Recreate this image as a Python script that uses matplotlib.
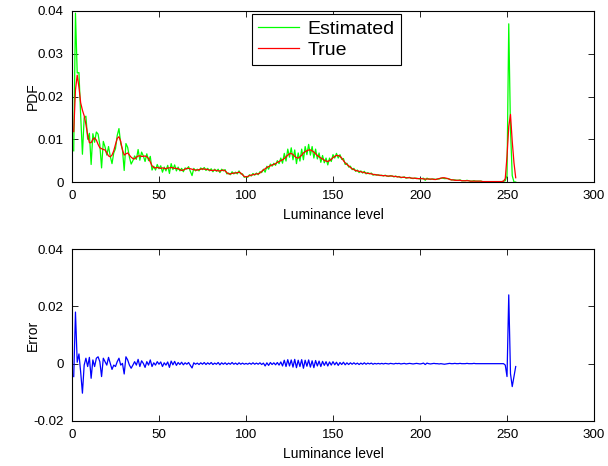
import numpy as np
from matplotlib import pyplot as plt

plt.rcParams['font.family'] = ['Liberation Sans', 'DejaVu Sans']
plt.rcParams['axes.unicode_minus'] = False

# luminance levels 1..255
levels = np.arange(1, 256)

true_pdf = [
    0.0118, 0.0215, 0.0250, 0.0222, 0.0185, 0.0168, 0.0155, 0.0135, 0.0110, 0.0092,
    0.0092, 0.0100, 0.0103, 0.0098, 0.0088, 0.0080, 0.0078, 0.0076, 0.0075, 0.0068,
    0.0061, 0.0059, 0.0063, 0.0073, 0.0088, 0.0102, 0.0106, 0.0095, 0.0075, 0.0063,
    0.0066, 0.0068, 0.0063, 0.0058, 0.0055, 0.0054, 0.0058, 0.0061, 0.0061, 0.0060,
    0.0060, 0.0061, 0.0059, 0.0055, 0.0047, 0.0038, 0.0034, 0.0033, 0.0034, 0.0033,
    0.0032, 0.0033, 0.0032, 0.0031, 0.0033, 0.0033, 0.0034, 0.0033, 0.0032, 0.0032,
    0.0031, 0.0029, 0.0027, 0.0028, 0.0030, 0.0032, 0.0032, 0.0031, 0.0030, 0.0029,
    0.0028, 0.0028, 0.0029, 0.0030, 0.0031, 0.0030, 0.0030, 0.0029, 0.0028, 0.0027,
    0.0027, 0.0028, 0.0027, 0.0026, 0.0026, 0.0027, 0.0028, 0.0026, 0.0022, 0.0019,
    0.0019, 0.0020, 0.0021, 0.0021, 0.0022, 0.0023, 0.0021, 0.0017, 0.0013, 0.0012,
    0.0013, 0.0015, 0.0016, 0.0017, 0.0018, 0.0019, 0.0019, 0.0021, 0.0025, 0.0028,
    0.0031, 0.0034, 0.0036, 0.0038, 0.0040, 0.0041, 0.0043, 0.0046, 0.0048, 0.0050,
    0.0052, 0.0055, 0.0059, 0.0063, 0.0066, 0.0067, 0.0064, 0.0060, 0.0057, 0.0056,
    0.0059, 0.0063, 0.0068, 0.0071, 0.0073, 0.0075, 0.0075, 0.0073, 0.0070, 0.0066,
    0.0062, 0.0059, 0.0056, 0.0054, 0.0051, 0.0049, 0.0048, 0.0050, 0.0053, 0.0057,
    0.0060, 0.0062, 0.0062, 0.0060, 0.0056, 0.0050, 0.0045, 0.0041, 0.0038, 0.0034,
    0.0031, 0.0029, 0.0027, 0.0026, 0.0025, 0.0024, 0.0023, 0.0022, 0.0021, 0.0020,
    0.0020, 0.0019, 0.0018, 0.0017, 0.0017, 0.0016, 0.0016, 0.0015, 0.0015, 0.0015,
    0.0014, 0.0014, 0.0014, 0.0014, 0.0013, 0.0013, 0.0012, 0.0012, 0.0011, 0.0011,
    0.0011, 0.0010, 0.0010, 0.0010, 0.0009, 0.0009, 0.0009, 0.0008, 0.0008, 0.0008,
    0.0008, 0.0007, 0.0007, 0.0007, 0.0007, 0.0007, 0.0007, 0.0006, 0.0006, 0.0007,
    0.0008, 0.0009, 0.0010, 0.0010, 0.0009, 0.0008, 0.0006, 0.0005, 0.0005, 0.0004,
    0.0004, 0.0004, 0.0004, 0.0003, 0.0003, 0.0003, 0.0003, 0.0003, 0.0002, 0.0002,
    0.0002, 0.0002, 0.0002, 0.0002, 0.0002, 0.0001, 0.0001, 0.0001, 0.0001, 0.0001,
    0.0001, 0.0001, 0.0001, 0.0001, 0.0001, 0.0001, 0.0001, 0.0002, 0.0008, 0.0060,
    0.0130, 0.0158, 0.0095, 0.0045, 0.0010,
]

estimated_pdf = [
    0.0073, 0.0395, 0.0255, 0.0256, 0.0155, 0.0065, 0.0150, 0.0154, 0.0100, 0.0114,
    0.0041, 0.0113, 0.0093, 0.0117, 0.0112, 0.0087, 0.0033, 0.0095, 0.0082, 0.0063,
    0.0083, 0.0060, 0.0043, 0.0068, 0.0078, 0.0109, 0.0125, 0.0090, 0.0076, 0.0027,
    0.0090, 0.0081, 0.0058, 0.0042, 0.0050, 0.0061, 0.0053, 0.0076, 0.0051, 0.0070,
    0.0061, 0.0048, 0.0066, 0.0050, 0.0060, 0.0028, 0.0037, 0.0028, 0.0041, 0.0031,
    0.0038, 0.0023, 0.0035, 0.0026, 0.0039, 0.0020, 0.0043, 0.0029, 0.0040, 0.0026,
    0.0035, 0.0026, 0.0032, 0.0024, 0.0033, 0.0030, 0.0036, 0.0025, 0.0015, 0.0032,
    0.0026, 0.0030, 0.0026, 0.0033, 0.0029, 0.0034, 0.0027, 0.0032, 0.0026, 0.0031,
    0.0024, 0.0030, 0.0025, 0.0030, 0.0022, 0.0030, 0.0026, 0.0029, 0.0019, 0.0021,
    0.0017, 0.0024, 0.0019, 0.0023, 0.0019, 0.0026, 0.0019, 0.0019, 0.0011, 0.0013,
    0.0011, 0.0017, 0.0014, 0.0020, 0.0016, 0.0021, 0.0017, 0.0024, 0.0022, 0.0030,
    0.0023, 0.0037, 0.0030, 0.0042, 0.0037, 0.0044, 0.0039, 0.0050, 0.0043, 0.0056,
    0.0044, 0.0067, 0.0049, 0.0077, 0.0058, 0.0080, 0.0052, 0.0075, 0.0043, 0.0068,
    0.0049, 0.0077, 0.0052, 0.0083, 0.0064, 0.0088, 0.0063, 0.0083, 0.0056, 0.0077,
    0.0054, 0.0068, 0.0046, 0.0062, 0.0045, 0.0056, 0.0040, 0.0056, 0.0048, 0.0064,
    0.0056, 0.0067, 0.0056, 0.0064, 0.0053, 0.0055, 0.0041, 0.0044, 0.0035, 0.0037,
    0.0029, 0.0032, 0.0025, 0.0028, 0.0022, 0.0026, 0.0021, 0.0025, 0.0019, 0.0022,
    0.0019, 0.0021, 0.0016, 0.0018, 0.0016, 0.0017, 0.0015, 0.0016, 0.0014, 0.0016,
    0.0014, 0.0013, 0.0015, 0.0014, 0.0012, 0.0014, 0.0012, 0.0013, 0.0010, 0.0011,
    0.0012, 0.0009, 0.0010, 0.0011, 0.0009, 0.0008, 0.0009, 0.0009, 0.0008, 0.0007,
    0.0008, 0.0009, 0.0004, 0.0009, 0.0007, 0.0006, 0.0007, 0.0007, 0.0006, 0.0007,
    0.0007, 0.0009, 0.0009, 0.0008, 0.0008, 0.0008, 0.0007, 0.0005, 0.0005, 0.0005,
    0.0004, 0.0004, 0.0005, 0.0003, 0.0003, 0.0003, 0.0004, 0.0003, 0.0002, 0.0002,
    0.0003, 0.0002, 0.0002, 0.0002, 0.0002, 0.0001, 0.0001, 0.0001, 0.0001, 0.0001,
    0.0001, 0.0001, 0.0001, 0.0001, 0.0001, 0.0001, 0.0001, 0.0002, 0.0003, 0.0015,
    0.0370, 0.0123, 0.0015, 0.0000, 0.0000,
]

error = [
    -0.0045, 0.0180, 0.0005, 0.0034, -0.0030, -0.0103, -0.0005, 0.0019, -0.0010, 0.0022,
    -0.0051, 0.0013, -0.0010, 0.0019, 0.0024, 0.0007, -0.0045, 0.0019, 0.0007, -0.0005,
    0.0022, 0.0001, -0.0020, -0.0005, -0.0010, 0.0007, 0.0019, -0.0005, 0.0001, -0.0036,
    0.0024, 0.0013, -0.0005, -0.0016, -0.0005, 0.0007, -0.0005, 0.0015, -0.0010, 0.0010,
    0.0001, -0.0013, 0.0007, -0.0005, 0.0013, -0.0010, 0.0003, -0.0005, 0.0007, -0.0002,
    0.0006, -0.0010, 0.0003, -0.0005, 0.0006, -0.0013, 0.0009, -0.0004, 0.0008, -0.0006,
    0.0004, -0.0003, 0.0005, -0.0004, 0.0003, -0.0002, 0.0004, -0.0006, -0.0015, 0.0003,
    -0.0002, 0.0002, -0.0003, 0.0003, -0.0002, 0.0004, -0.0003, 0.0003, -0.0002, 0.0004,
    -0.0003, 0.0002, -0.0002, 0.0004, -0.0004, 0.0003, -0.0002, 0.0003, -0.0003, 0.0002,
    -0.0002, 0.0004, -0.0002, 0.0002, -0.0003, 0.0003, -0.0002, 0.0002, -0.0002, 0.0001,
    -0.0002, 0.0002, -0.0002, 0.0003, -0.0002, 0.0002, -0.0002, 0.0003, -0.0003, 0.0002,
    -0.0008, 0.0003, -0.0006, 0.0004, -0.0003, 0.0003, -0.0004, 0.0004, -0.0005, 0.0006,
    -0.0008, 0.0012, -0.0010, 0.0014, -0.0008, 0.0013, -0.0012, 0.0015, -0.0014, 0.0012,
    -0.0010, 0.0014, -0.0016, 0.0012, -0.0009, 0.0013, -0.0012, 0.0010, -0.0014, 0.0011,
    -0.0008, 0.0009, -0.0010, 0.0008, -0.0006, 0.0007, -0.0008, 0.0006, -0.0005, 0.0007,
    -0.0004, 0.0005, -0.0006, 0.0004, -0.0003, 0.0005, -0.0004, 0.0003, -0.0003, 0.0003,
    -0.0002, 0.0003, -0.0002, 0.0002, -0.0003, 0.0002, -0.0002, 0.0003, -0.0002, 0.0002,
    -0.0001, 0.0002, -0.0002, 0.0001, -0.0001, 0.0001, -0.0001, 0.0001, -0.0001, 0.0001,
    0.0000, -0.0001, 0.0001, 0.0000, -0.0001, 0.0001, 0.0000, 0.0001, -0.0001, 0.0000,
    0.0001, -0.0001, 0.0000, 0.0001, 0.0000, -0.0001, 0.0000, 0.0001, 0.0000, -0.0001,
    0.0000, 0.0002, -0.0003, 0.0002, 0.0000, -0.0001, 0.0000, 0.0001, 0.0000, 0.0000,
    -0.0001, 0.0000, -0.0001, -0.0002, -0.0001, 0.0000, 0.0001, 0.0000, 0.0000, 0.0001,
    0.0000, 0.0000, 0.0001, 0.0000, 0.0000, 0.0000, 0.0001, 0.0000, 0.0000, 0.0000,
    0.0001, 0.0000, 0.0000, 0.0000, 0.0000, 0.0000, 0.0000, 0.0000, 0.0000, 0.0000,
    0.0000, 0.0000, 0.0000, 0.0000, 0.0000, 0.0000, 0.0000, 0.0000, -0.0005, -0.0045,
    0.0240, -0.0035, -0.0080, -0.0045, -0.0010,
]

x_ticks = [0, 50, 100, 150, 200, 250, 300]
pdf_ticks = [0, 0.01, 0.02, 0.03, 0.04]
pdf_labels = ['0', '0.01', '0.02', '0.03', '0.04']
err_ticks = [-0.02, 0, 0.02, 0.04]
err_labels = ['-0.02', '0', '0.02', '0.04']


def matlab_axes(ax, ylabel):
    ax.set_xlim(0, 300)
    ax.set_xticks(x_ticks)
    ax.set_xlabel('Luminance level', fontsize=10, labelpad=4)
    ax.set_ylabel(ylabel, fontsize=10)
    ax.yaxis.set_label_coords(-0.062, 0.5)
    ax.tick_params(direction='in', top=True, right=True, length=4, width=0.6,
                   labelsize=9.6, pad=6)
    for sp in ax.spines.values():
        sp.set_linewidth(0.8)


fig = plt.figure(figsize=(6.08, 4.66), dpi=100)

ax1 = fig.add_axes([0.1184, 0.6094, 0.8586, 0.367])
ax1.plot(levels, estimated_pdf, color=(0, 1, 0), lw=0.9, label='Estimated')
ax1.plot(levels, true_pdf, color=(1, 0, 0), lw=0.9, label='True')
ax1.set_ylim(0, 0.04)
ax1.set_yticks(pdf_ticks)
ax1.set_yticklabels(pdf_labels)
matlab_axes(ax1, 'PDF')
leg = ax1.legend(loc='upper center', bbox_to_anchor=(0.4876, 0.982), fontsize=14,
                 fancybox=False, framealpha=1, edgecolor='black', handlelength=2.1,
                 borderpad=0.3, labelspacing=0.2, handletextpad=0.45,
                 borderaxespad=0)
leg.get_frame().set_linewidth(0.8)

ax2 = fig.add_axes([0.1184, 0.0966, 0.8586, 0.369])
ax2.plot(levels, error, color=(0, 0, 1), lw=0.9)
ax2.set_ylim(-0.02, 0.04)
ax2.set_yticks(err_ticks)
ax2.set_yticklabels(err_labels)
matlab_axes(ax2, 'Error')

fig.savefig('out.png', dpi=100)
